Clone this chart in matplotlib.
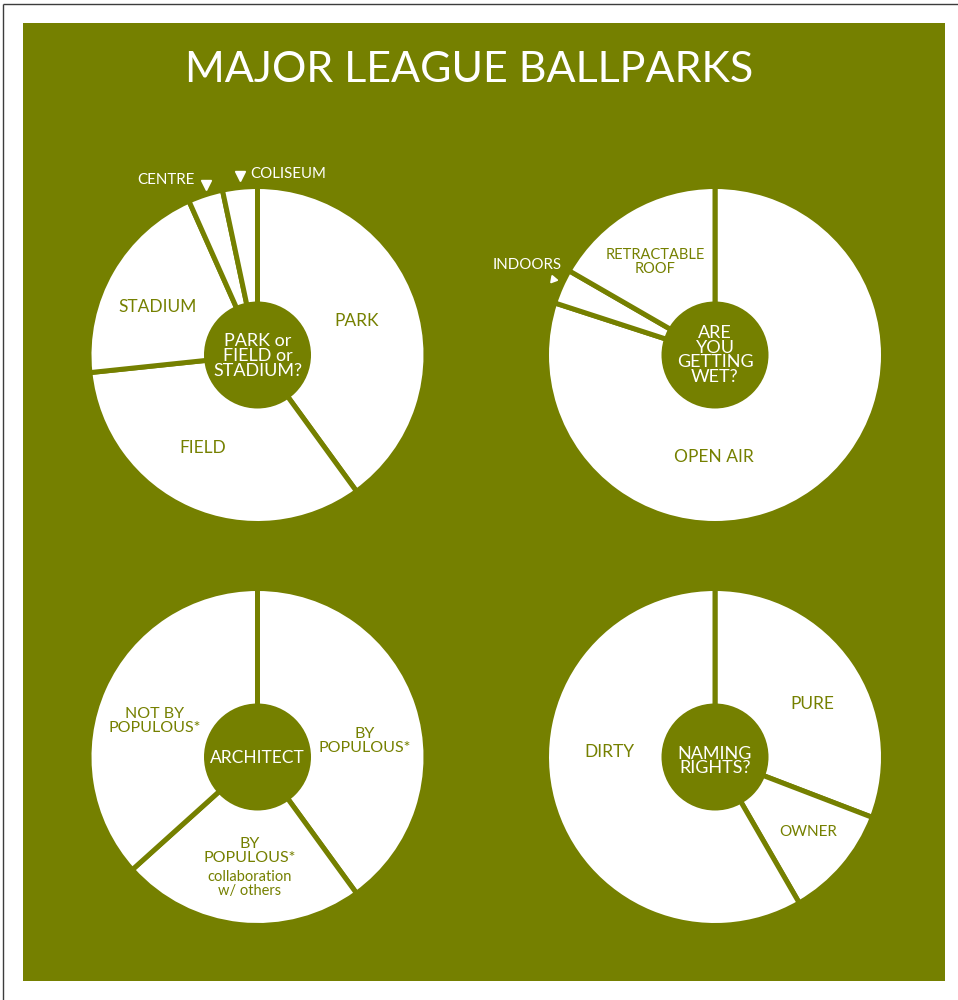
import matplotlib
matplotlib.use("Agg")
import matplotlib.pyplot as plt
from matplotlib.patches import Rectangle, Circle

plt.rcParams['font.family'] = ['Lato', 'DejaVu Sans']

GREEN = '#758000'
WHITE = '#ffffff'

# --- data: 30 Major League ballparks, slices run clockwise from 12 o'clock ---
name_labels = ['PARK', 'FIELD', 'STADIUM', 'CENTRE', 'COLISEUM']
name_counts = [12, 10, 6, 1, 1]

roof_labels = ['OPEN AIR', 'INDOORS', 'RETRACTABLE ROOF']
roof_counts = [24, 1, 5]

architect_labels = ['BY POPULOUS*', 'BY POPULOUS* collaboration w/ others', 'NOT BY POPULOUS*']
architect_counts = [12, 7, 11]

naming_labels = ['PURE', 'OWNER', 'DIRTY']
naming_counts = [9.25, 3.25, 17.5]

W, H = 958, 1000
fig = plt.figure(figsize=(W / 100, H / 100), dpi=100)
ax = fig.add_axes([0, 0, 1, 1])

# green panel and thin frame
ax.add_patch(Rectangle((23, 23), 922, 958, facecolor=GREEN, edgecolor='none', zorder=0))
ax.plot([3.5, 3.5], [1000, 3.5], color='#3c3c3c', lw=1.0, zorder=1, solid_capstyle='butt')
ax.plot([3.5, 958], [3.5, 3.5], color='#3c3c3c', lw=1.0, zorder=1, solid_capstyle='butt')

R_OUT = 168.5
R_IN = 53.5
EDGE_LW = 3.6


def donut(counts, cx, cy, question, q_y, q_size=13):
    # y axis is inverted: startangle=-90 and counterclock=True give a
    # clockwise run starting at the top on screen
    ax.pie(counts, center=(cx, cy), radius=R_OUT, startangle=-90,
           counterclock=True, colors=[WHITE] * len(counts),
           wedgeprops=dict(edgecolor=GREEN, linewidth=EDGE_LW), frame=True)
    ax.add_patch(Circle((cx, cy), R_IN, facecolor=GREEN, edgecolor='none', zorder=5))
    ax.text(cx, q_y, question, color=WHITE, fontsize=q_size, ha='center', va='center',
            linespacing=0.92, zorder=6)


def label(x, y, s, size=12.5, color=GREEN, **kw):
    ax.text(x, y, s, color=color, fontsize=size, ha='center', va='center',
            linespacing=0.95, zorder=6, **kw)


# title
ax.text(469, 70, 'MAJOR LEAGUE BALLPARKS', color=WHITE, fontsize=31,
        ha='center', va='center', zorder=6)

# top-left: park names
donut(name_counts, 257.5, 355, 'PARK or\nFIELD or\nSTADIUM?', 356)
label(357, 321, name_labels[0])
label(203, 448, name_labels[1])
label(158, 307, name_labels[2])
label(166, 180, name_labels[3], size=10.8, color=WHITE)
label(288, 174, name_labels[4], size=10.8, color=WHITE)
ax.plot([206], [185], marker='v', color=WHITE, markersize=7, zorder=6, linestyle='none')
ax.plot([240], [176], marker='v', color=WHITE, markersize=7, zorder=6, linestyle='none')

# top-right: roofs
donut(roof_counts, 715, 355, 'ARE\nYOU\nGETTING\nWET?', 355)
label(714, 457, roof_labels[0])
label(527, 265, roof_labels[1], size=10.8, color=WHITE)
label(655, 262, 'RETRACTABLE\nROOF', size=10.5)
ax.plot([553], [279], marker=(3, 0, 20), color=WHITE, markersize=6, zorder=6, linestyle='none')

# bottom-left: architects
donut(architect_counts, 257.5, 757, 'ARCHITECT', 758, q_size=12.5)
label(365, 741, 'BY\nPOPULOUS*', size=11.5)
label(155, 721, 'NOT BY\nPOPULOUS*', size=11.5)
label(250, 851, 'BY\nPOPULOUS*', size=11.5)
label(250, 884, 'collaboration\nw/ others', size=10.5)

# bottom-right: naming rights
donut(naming_counts, 715, 757, 'NAMING\nRIGHTS?', 761)
label(812, 704, naming_labels[0])
label(808, 832, naming_labels[1], size=11)
label(609, 752, naming_labels[2])

ax.set_xlim(0, W)
ax.set_ylim(H, 0)
ax.set_aspect('auto')
ax.axis('off')

fig.savefig('out.png', dpi=100, facecolor='white')
